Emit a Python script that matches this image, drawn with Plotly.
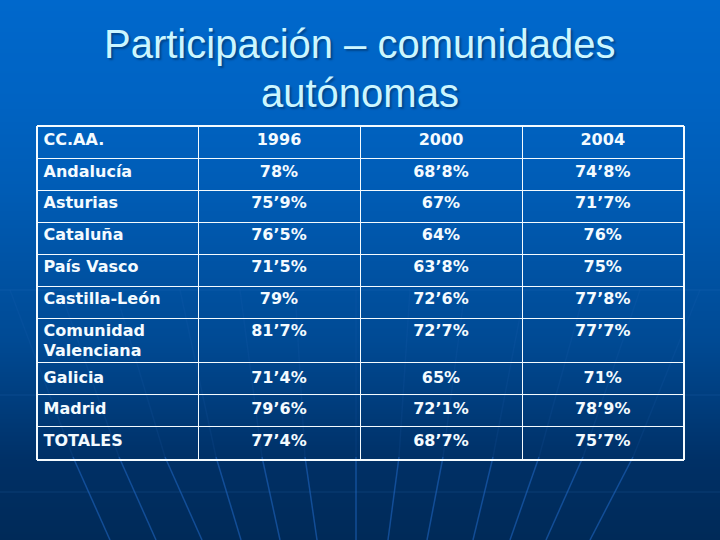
import plotly.graph_objects as go

comunidades = ["CC.AA.", "Andalucía", "Asturias", "Cataluña", "País Vasco", "Castilla-León",
               "Comunidad<br>Valenciana", "Galicia", "Madrid", "TOTALES"]
col_1996 = ["1996", "78%", "75’9%", "76’5%", "71’5%", "79%", "81’7%", "71’4%", "79’6%", "77’4%"]
col_2000 = ["2000", "68’8%", "67%", "64%", "63’8%", "72’6%", "72’7%", "65%", "72’1%", "68’7%"]
col_2004 = ["2004", "74’8%", "71’7%", "76%", "75%", "77’8%", "77’7%", "71%", "78’9%", "75’7%"]
title_lines = ["Participación – comunidades", "autónomas"]

col_edges = [37, 198.5, 360.5, 522.5, 684]
row_edges = [126, 158.5, 190.5, 222.5, 254.5, 286.5, 318.5, 362.5, 394.5, 426.5, 460]
row_text_y = [140.5, 172.5, 204, 236, 268, 300, 332, 378.5, 410, 442]

fan_bottom = [110, 156, 202, 241, 280, 317, 356, 388, 427, 473, 510, 546, 590]
fan_top = [73, 119, 165, 216, 262, 305, 356, 399, 443, 493, 539, 583, 633]
fan_high = [10, 60, 115, 180, 240, 295, 356, 410, 465, 525, 585, 640, 700]
grid_y = [290, 395, 492]

WHITE = "#f4fbff"
fig = go.Figure()

# vertical background gradient
grad_y = [0, 100, 200, 300, 400, 470, 540]
grad_z = [[0.0, 0.0], [0.12, 0.12], [0.32, 0.32], [0.52, 0.52], [0.72, 0.72], [0.87, 0.87], [1.0, 1.0]]
fig.add_trace(go.Heatmap(
    x=[0, 720], y=grad_y, z=grad_z, zmin=0, zmax=1, zsmooth="best", showscale=False, hoverinfo="skip",
    colorscale=[[0, "#0068cc"], [0.3, "#005cb5"], [0.6, "#004a94"], [0.85, "#003066"], [1, "#002a58"]],
))

# faint fan of curved lines
for b, t, h in zip(fan_bottom, fan_top, fan_high):
    fig.add_trace(go.Scatter(x=[b, t], y=[540, 457], mode="lines", hoverinfo="skip",
                             line=dict(color="rgba(30,100,190,0.6)", width=1.5)))
    fig.add_trace(go.Scatter(x=[t, h], y=[457, 290], mode="lines", hoverinfo="skip",
                             line=dict(color="rgba(40,110,190,0.12)", width=1.5)))
for gy in grid_y:
    fig.add_trace(go.Scatter(x=[0, 720], y=[gy, gy], mode="lines", hoverinfo="skip",
                             line=dict(color="rgba(50,120,200,0.2)", width=1)))

# table rules
for i, x in enumerate(col_edges):
    fig.add_shape(type="line", x0=x, x1=x, y0=row_edges[0], y1=row_edges[-1],
                  line=dict(color=WHITE, width=2 if i in (0, 4) else 1))
for i, y in enumerate(row_edges):
    fig.add_shape(type="line", x0=col_edges[0], x1=col_edges[-1], y0=y, y1=y,
                  line=dict(color=WHITE, width=2 if i in (0, 10) else 1))

body_font = dict(family="DejaVu Sans", size=16, color=WHITE, weight="bold")

# first column
label_y = list(row_text_y)
label_y[6] = 342
fig.add_trace(go.Scatter(x=[43.5] * len(comunidades), y=label_y, text=comunidades, mode="text",
                         textposition="middle right", textfont=body_font, hoverinfo="skip"))

# value columns
for col, vals in enumerate([col_1996, col_2000, col_2004]):
    cx = (col_edges[col + 1] + col_edges[col + 2]) / 2 - 0.5
    fig.add_trace(go.Scatter(x=[cx] * len(vals), y=row_text_y, text=vals, mode="text",
                             textposition="middle center", textfont=body_font, hoverinfo="skip"))

# title
for line, ty in zip(title_lines, [44, 93]):
    fig.add_annotation(x=359.5, y=ty, text=line, showarrow=False, xanchor="center", yanchor="middle",
                       font=dict(family="Liberation Sans", size=40, color="#ccf6ff",
                                 shadow="2px 2px 2px #00468c"))

fig.update_layout(
    width=720, height=540, margin=dict(l=0, r=0, t=0, b=0), showlegend=False,
    paper_bgcolor="#004a94", plot_bgcolor="rgba(0,0,0,0)",
    xaxis=dict(range=[0, 720], visible=False, fixedrange=True),
    yaxis=dict(range=[540, 0], visible=False, fixedrange=True),
)
fig.write_html("out.html", config={"displayModeBar": False},
               post_script="document.body.style.margin='0';document.documentElement.style.overflow='hidden';")
